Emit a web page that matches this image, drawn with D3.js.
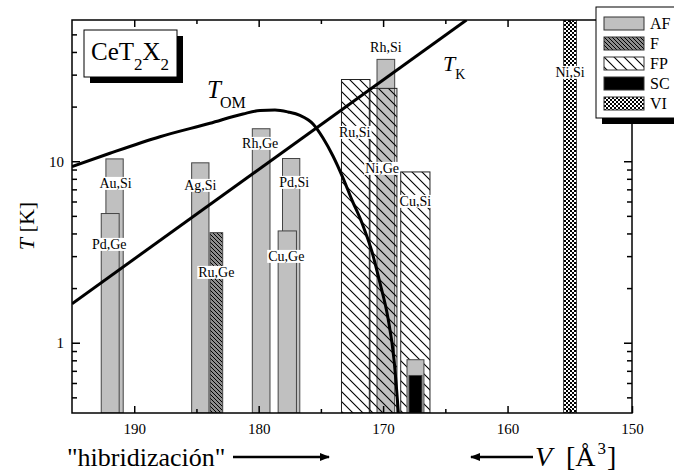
<!DOCTYPE html>
<html>
<head>
<meta charset="utf-8">
<script src="https://cdn.jsdelivr.net/npm/d3@7"></script>
<style>
  body { margin: 0; background: #fff; }
  svg text { font-family: "Liberation Serif", "Times New Roman", serif; }
</style>
</head>
<body>
<svg id="chart" width="674" height="473"></svg>
<script>
// compounds CeT2X2: name, ordering type, cell volume (A^3), bar width (A^3), T (K)
var names   = ['Au,Si', 'Pd,Ge', 'Ag,Si', 'Ru,Ge', 'Rh,Ge', 'Pd,Si', 'Cu,Ge', 'Ru,Si', 'Rh,Si', 'Ni,Ge', 'Cu,Si', '', '', 'Ni,Si'];
var types   = ['AF', 'AF', 'AF', 'F', 'AF', 'AF', 'AF', 'FP', 'AF', 'FP', 'FP', 'AF', 'SC', 'VI'];
var volumes = [191.58, 191.93, 184.69, 183.4, 179.8, 177.39, 177.7, 172.2, 169.78, 170.0, 167.41, 167.4, 167.4, 154.98];
var widths  = [1.39, 1.44, 1.39, 1.02, 1.42, 1.39, 1.47, 2.29, 1.42, 2.22, 2.35, 1.36, 1.04, 1.04];
var temps   = [10.3, 5.15, 9.8, 4.04, 15.1, 10.35, 4.13, 28.2, 36.4, 25.2, 8.73, 0.806, 0.66, 60];

// label y position (px) for each compound label
var labelY = [183, 244, 185, 272, 143, 182, 256, 132, 47, 168, 201, 0, 0, 72];
var labelDx = [1, -1, 0, 0, -1, 3, -1, -1, 0, -1, 0, 0, 0, 0];

var legendKeys = ['AF', 'F', 'FP', 'SC', 'VI'];

// T_OM curve (V, T)
var tomV = [195.0, 191.95, 187.93, 183.91, 181.26, 179.89, 178.69, 177.64, 176.68, 175.63, 174.83, 174.03, 173.22, 172.5, 171.7, 170.89, 170.25, 169.61, 169.12, 168.76];
var tomT = [9.33, 11.06, 13.65, 16.18, 18.21, 19.04, 19.16, 18.68, 17.87, 16.04, 13.43, 10.69, 8.08, 6.11, 4.57, 3.16, 2.13, 1.37, 0.803, 0.4];
// T_K line (V, T)
var tkV = [195.0, 163.3];
var tkT = [1.64, 60];

var xMajor = [190, 180, 170, 160, 150];
var xMinor = [185, 175, 165, 155];
var yMajor = [1, 10];
var yMinor = [0.5, 0.6, 0.7, 0.8, 0.9, 2, 3, 4, 5, 6, 7, 8, 9, 20, 30, 40, 50];

var pL = 72, pR = 632, pT = 20, pB = 413;

var svg = d3.select('#chart');
var x = d3.scaleLinear().domain([195, 150]).range([pL, pR]);
var y = d3.scaleLog().domain([0.41, 60]).range([pB, pT]);

var defs = svg.append('defs');
var pF = defs.append('pattern').attr('id', 'pat-F').attr('patternUnits', 'userSpaceOnUse')
  .attr('width', 4).attr('height', 4);
pF.append('rect').attr('width', 4).attr('height', 4).attr('fill', '#8c8c8c');
pF.append('path').attr('d', 'M0,0L4,4M-1,3L1,5M3,-1L5,1').attr('stroke', '#000').attr('stroke-width', 1);

var pFP = defs.append('pattern').attr('id', 'pat-FP').attr('patternUnits', 'userSpaceOnUse')
  .attr('width', 10).attr('height', 10);
pFP.append('path').attr('d', 'M0,0L10,10M-5,5L5,15M5,-5L15,5').attr('stroke', '#000').attr('stroke-width', 1.1);

var pVI = defs.append('pattern').attr('id', 'pat-VI').attr('patternUnits', 'userSpaceOnUse')
  .attr('width', 4).attr('height', 4);
pVI.append('rect').attr('width', 4).attr('height', 4).attr('fill', '#fff');
pVI.append('rect').attr('width', 2).attr('height', 2).attr('fill', '#000');
pVI.append('rect').attr('x', 2).attr('y', 2).attr('width', 2).attr('height', 2).attr('fill', '#000');

defs.append('clipPath').attr('id', 'plot-clip').append('rect')
  .attr('x', pL).attr('y', pT).attr('width', pR - pL).attr('height', pB - pT);

var arrowHead = defs.append('marker').attr('id', 'arrow').attr('viewBox', '0 0 10 10')
  .attr('refX', 9).attr('refY', 5).attr('markerWidth', 4).attr('markerHeight', 4)
  .attr('markerUnits', 'strokeWidth').attr('orient', 'auto');
arrowHead.append('path').attr('d', 'M0,1L10,5L0,9Z').attr('fill', '#000');

function fillFor(t) {
  if (t === 'AF') return '#c0c0c0';
  if (t === 'SC') return '#000';
  return 'url(#pat-' + t + ')';
}

var bars = names.map(function (n, i) {
  return { name: n, type: types[i], v: volumes[i], w: widths[i], t: temps[i], ly: labelY[i], dx: labelDx[i] };
});

var plot = svg.append('g').attr('clip-path', 'url(#plot-clip)');

plot.selectAll('.bar').data(bars).enter().append('rect')
  .attr('class', 'bar')
  .attr('x', function (d) { return x(d.v + d.w / 2); })
  .attr('width', function (d) { return x(d.v - d.w / 2) - x(d.v + d.w / 2); })
  .attr('y', function (d) { return y(d.t); })
  .attr('height', function (d) { return pB - y(d.t); })
  .attr('fill', function (d) { return fillFor(d.type); })
  .attr('stroke', function (d) { return d.type === 'FP' ? '#222' : '#444'; })
  .attr('stroke-width', 1);

// bar labels with white boxes
var labelG = svg.append('g');
bars.filter(function (d) { return d.name; }).forEach(function (d) {
  var g = labelG.append('g');
  var txt = g.append('text')
    .attr('x', x(d.v) + d.dx).attr('y', d.ly)
    .attr('text-anchor', 'middle').attr('dy', '0.35em')
    .attr('font-size', 14).text(d.name);
  var bb = txt.node().getBBox();
  g.insert('rect', 'text')
    .attr('x', bb.x - 1).attr('y', bb.y + 1).attr('width', bb.width + 2).attr('height', bb.height - 2)
    .attr('fill', '#fff');
});

// curves
plot.append('path')
  .datum(tomV.map(function (v, i) { return [v, tomT[i]]; }))
  .attr('d', d3.line()
    .x(function (d) { return x(d[0]); })
    .y(function (d) { return y(d[1]); })
    .curve(d3.curveMonotoneX))
  .attr('fill', 'none').attr('stroke', '#000').attr('stroke-width', 3);
plot.append('path')
  .datum(tkV.map(function (v, i) { return [v, tkT[i]]; }))
  .attr('d', d3.line().x(function (d) { return x(d[0]); }).y(function (d) { return y(d[1]); }))
  .attr('fill', 'none').attr('stroke', '#000').attr('stroke-width', 3);

// frame
svg.append('rect').attr('x', pL).attr('y', pT).attr('width', pR - pL).attr('height', pB - pT)
  .attr('fill', 'none').attr('stroke', '#000').attr('stroke-width', 1.5);

// axes
function styleAxis(g) {
  g.select('.domain').remove();
  g.attr('font-family', null);
  g.selectAll('line').attr('stroke', '#000').attr('stroke-width', 1.5);
  g.selectAll('text').attr('font-size', 15).attr('fill', '#000');
}
svg.append('g').attr('transform', 'translate(0,' + pB + ')')
  .call(d3.axisBottom(x).tickValues(xMajor).tickSize(-7).tickPadding(10).tickFormat(d3.format('d')))
  .call(styleAxis);
svg.append('g').attr('transform', 'translate(0,' + pB + ')')
  .call(d3.axisBottom(x).tickValues(xMinor).tickSize(-4).tickFormat(''))
  .call(styleAxis);
svg.append('g').attr('transform', 'translate(0,' + pT + ')')
  .call(d3.axisTop(x).tickValues(xMajor).tickSize(-7).tickFormat(''))
  .call(styleAxis);
svg.append('g').attr('transform', 'translate(0,' + pT + ')')
  .call(d3.axisTop(x).tickValues(xMinor).tickSize(-4).tickFormat(''))
  .call(styleAxis);
svg.append('g').attr('transform', 'translate(' + pL + ',0)')
  .call(d3.axisLeft(y).tickValues(yMajor).tickSize(-8).tickPadding(8).tickFormat(d3.format('d')))
  .call(styleAxis);
svg.append('g').attr('transform', 'translate(' + pL + ',0)')
  .call(d3.axisLeft(y).tickValues(yMinor).tickSize(-5).tickFormat(''))
  .call(styleAxis);
svg.append('g').attr('transform', 'translate(' + pR + ',0)')
  .call(d3.axisRight(y).tickValues(yMajor).tickSize(-8).tickFormat(''))
  .call(styleAxis);
svg.append('g').attr('transform', 'translate(' + pR + ',0)')
  .call(d3.axisRight(y).tickValues(yMinor).tickSize(-5).tickFormat(''))
  .call(styleAxis);

// CeT2X2 box
svg.append('rect').attr('x', 90).attr('y', 36).attr('width', 93).attr('height', 47).attr('fill', '#000');
svg.append('rect').attr('x', 84).attr('y', 30).attr('width', 93).attr('height', 47)
  .attr('fill', '#fff').attr('stroke', '#000').attr('stroke-width', 1);
var ce = svg.append('text').attr('x', 91).attr('y', 60).attr('font-size', 25);
ce.append('tspan').text('CeT');
ce.append('tspan').attr('font-size', 17).attr('dy', 10).text('2');
ce.append('tspan').attr('dy', -10).text('X');
ce.append('tspan').attr('font-size', 17).attr('dy', 10).text('2');

// curve labels
var tom = svg.append('text').attr('x', 207).attr('y', 98).attr('font-size', 25);
tom.append('tspan').attr('font-style', 'italic').text('T');
tom.append('tspan').attr('font-size', 16).attr('dx', -1).attr('dy', 10).text('OM');
var tk = svg.append('text').attr('x', 443).attr('y', 71).attr('font-size', 22);
tk.append('tspan').attr('font-style', 'italic').text('T');
tk.append('tspan').attr('font-size', 14).attr('dy', 8).text('K');

// legend
var lx = 596, ly = 7;
svg.append('rect').attr('x', lx + 6).attr('y', ly + 6).attr('width', 100).attr('height', 111).attr('fill', '#000');
svg.append('rect').attr('x', lx).attr('y', ly).attr('width', 100).attr('height', 111)
  .attr('fill', '#fff').attr('stroke', '#000').attr('stroke-width', 1);
var leg = svg.selectAll('.leg').data(legendKeys).enter().append('g')
  .attr('class', 'leg')
  .attr('transform', function (d, i) { return 'translate(' + (lx + 8) + ',' + (ly + 10 + i * 20) + ')'; });
leg.append('rect').attr('width', 40).attr('height', 13)
  .attr('fill', function (d) { return fillFor(d); })
  .attr('stroke', '#333').attr('stroke-width', 1);
leg.append('text').attr('x', 46).attr('y', 12).attr('font-size', 16).text(function (d) { return d; });

// axis titles
svg.append('text').attr('transform', 'translate(34,226) rotate(-90)')
  .attr('text-anchor', 'middle').attr('font-size', 22)
  .call(function (t) {
    t.append('tspan').attr('font-style', 'italic').text('T');
    t.append('tspan').text(' [K]');
  });

svg.append('text').attr('x', 67).attr('y', 466).attr('font-size', 26).text('"hibridización"');
svg.append('line').attr('x1', 233).attr('y1', 457).attr('x2', 329).attr('y2', 457)
  .attr('stroke', '#000').attr('stroke-width', 2.5).attr('marker-end', 'url(#arrow)');
svg.append('line').attr('x1', 533).attr('y1', 457).attr('x2', 471).attr('y2', 457)
  .attr('stroke', '#000').attr('stroke-width', 2.5).attr('marker-end', 'url(#arrow)');
var vt = svg.append('text').attr('y', 466).attr('font-size', 28);
vt.append('tspan').attr('x', 535).attr('font-style', 'italic').text('V');
vt.append('tspan').attr('x', 566).text('[Å');
vt.append('tspan').attr('dx', 2).attr('font-size', 17).attr('dy', -12).text('3');
vt.append('tspan').attr('dx', 1).attr('dy', 12).text(']');
</script>
</body>
</html>
